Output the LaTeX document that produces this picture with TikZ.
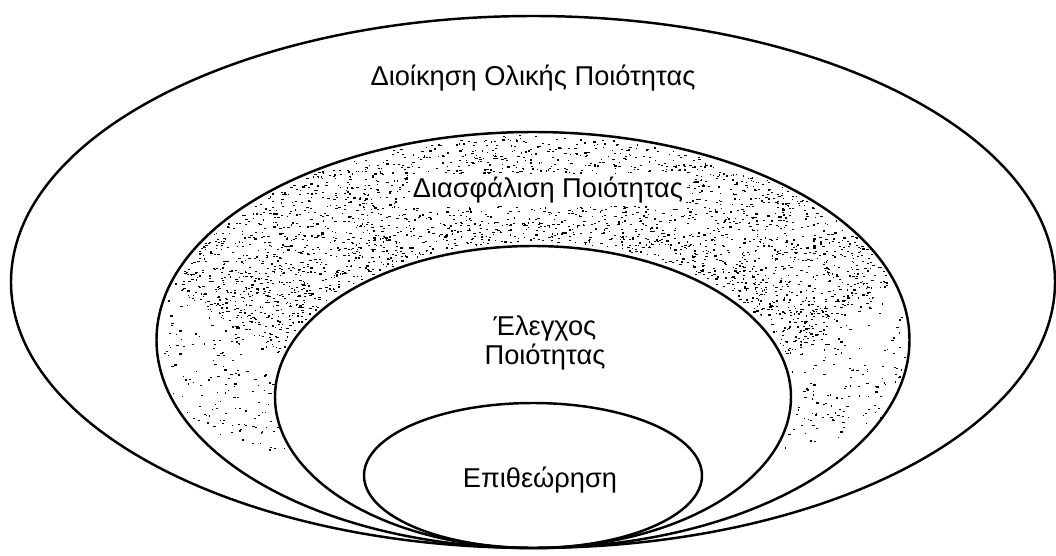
\documentclass[tikz,border=0pt]{standalone}
\usepackage{fontspec}
\setmainfont{Liberation Sans}
\usetikzlibrary{calc}

\begin{document}
\begin{tikzpicture}[line width=1.4pt, txt/.style={font=\fontsize{15.5}{17}\selectfont, inner sep=0pt, align=center}] % 四个椭圆在底部同一点相切，层层嵌套
  \fill[white] (0,0) rectangle (21.12,11.1); % 白色底
  \useasboundingbox (0,0) rectangle (21.12,11.1); % 固定画布尺寸
  \coordinate (O) at (10.66,0.14); % 四个椭圆共同的最低点（切点）

  % 第二层环带上的斑点（随机小点）
  \begin{scope}
    \pgfmathsetseed{17} % 固定随机种子，保证每次结果一样
    \foreach \i in {1,...,2400}{ % 上半部分较密
      \pgfmathsetmacro{\sv}{0.03+0.94*rnd} % 在内外椭圆之间的插值比例
      \pgfmathsetmacro{\av}{15+150*rnd} % 角度
      \pgfmathsetmacro{\rx}{5.16+\sv*2.37}
      \pgfmathsetmacro{\ry}{3.02+\sv*1.14}
      \pgfmathsetmacro{\dw}{0.02+0.035*rnd}
      \fill ($(O)+(0,\ry)+(\av:\rx cm and \ry cm)$) rectangle ++(\dw,0.024);
    }
    \foreach \i in {1,...,800}{ % 两侧较稀
      \pgfmathsetmacro{\sv}{0.03+0.94*rnd}
      \pgfmathsetmacro{\av}{-25+230*rnd}
      \pgfmathsetmacro{\rx}{5.16+\sv*2.37}
      \pgfmathsetmacro{\ry}{3.02+\sv*1.14}
      \pgfmathsetmacro{\dw}{0.02+0.035*rnd}
      \fill ($(O)+(0,\ry)+(\av:\rx cm and \ry cm)$) rectangle ++(\dw,0.024);
    }
  \end{scope}

  % 四个椭圆（由外到内）
  \draw ($(O)+(0,5.32)$) ellipse (10.44 and 5.32); % 最外层
  \draw ($(O)+(0,4.16)$) ellipse (7.53 and 4.16); % 第二层
  \draw ($(O)+(0,3.02)$) ellipse (5.16 and 3.02); % 第三层
  \draw ($(O)+(0,1.45)$) ellipse (3.38 and 1.45); % 最内层

  % 文字
  \node[txt] (tqm) at (10.66,9.54) {Διοίκηση Ολικής Ποιότητας};
  \node[txt, fill=white, inner sep=1.5pt] (qa) at (10.96,7.30) {Διασφάλιση Ποιότητας}; % 白底，避免斑点压字
  \node[txt] (qc) at (10.90,4.24) {Έλεγχος\\Ποιότητας};
  \node[txt] (insp) at (10.80,1.50) {Επιθεώρηση};
\end{tikzpicture}
\end{document}
